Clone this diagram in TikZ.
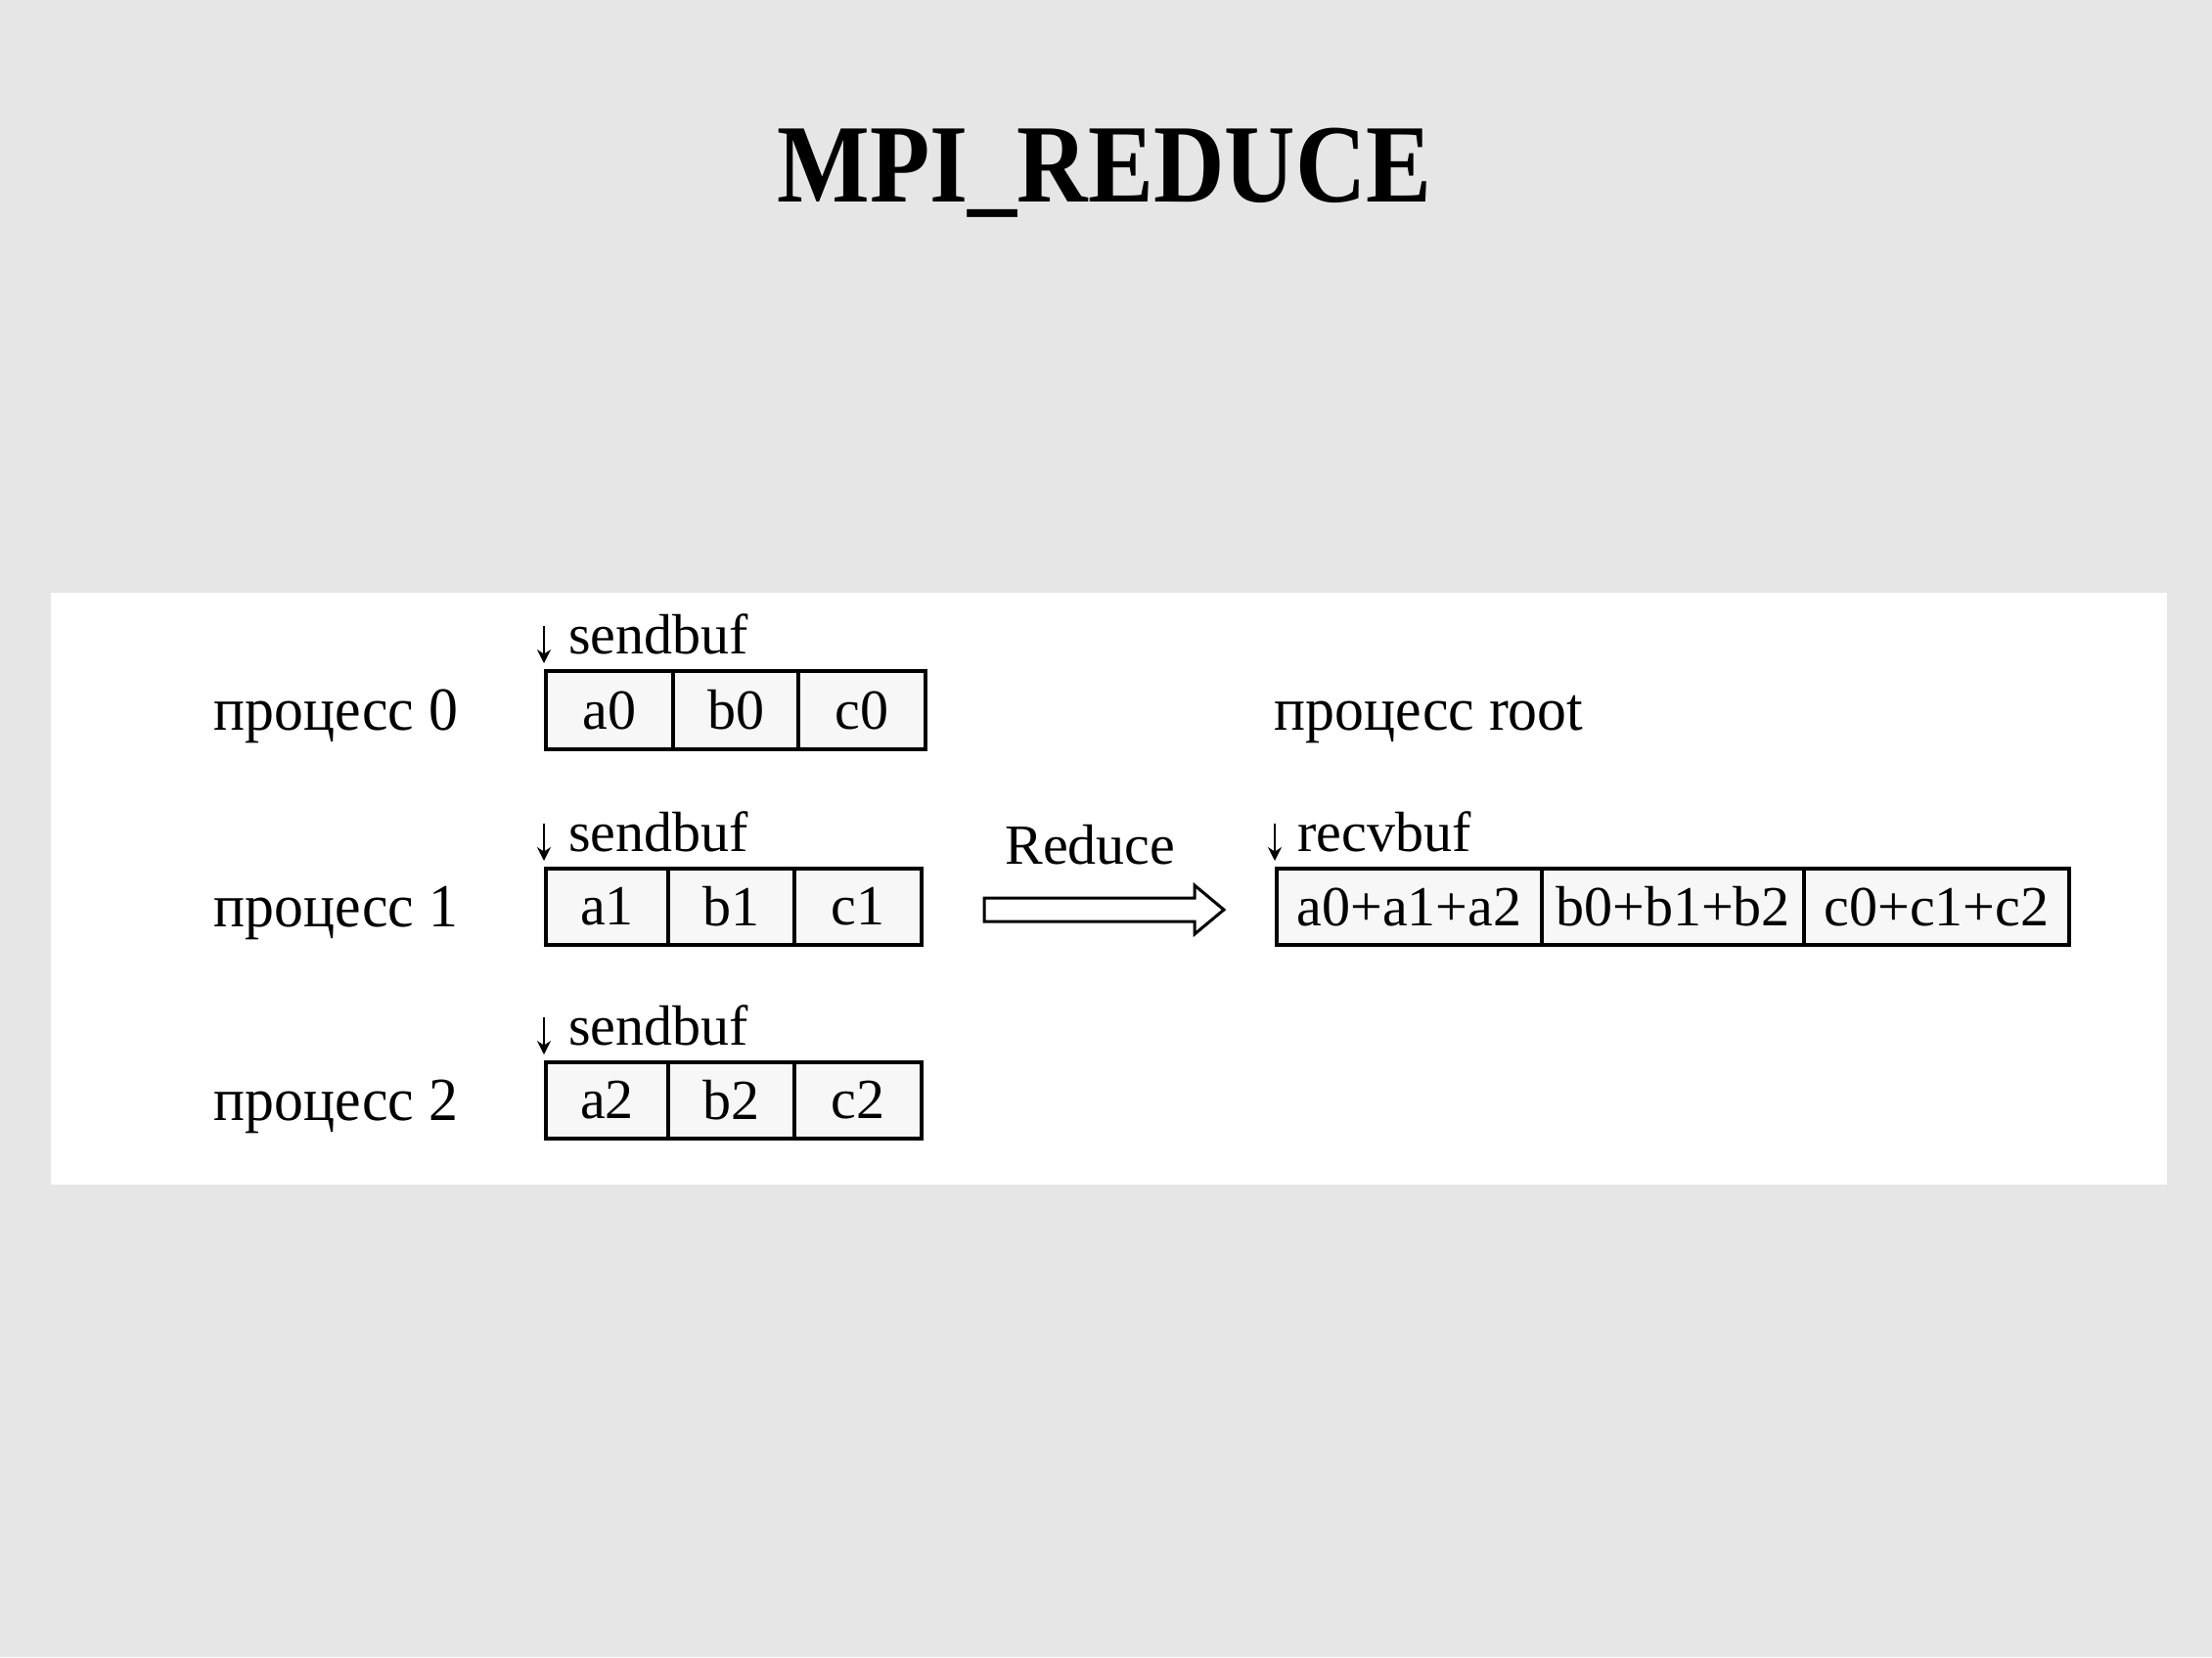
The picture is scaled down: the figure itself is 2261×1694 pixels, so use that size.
\documentclass[tikz,border=0pt]{standalone}
\usepackage{fontspec}
\usepackage{graphicx}
\setmainfont{Liberation Serif}
\usetikzlibrary{arrows.meta}
\definecolor{slidebg}{HTML}{E6E6E6}
\definecolor{cellfill}{HTML}{F7F7F7}
\begin{document}
\begin{tikzpicture}[x=0.5pt,y=-0.5pt,
  txt/.style={anchor=base west,inner sep=0pt,font=\fontsize{29}{34}\selectfont},
  cell/.style={draw,line width=2pt,fill=cellfill,inner sep=0pt,
    font=\fontsize{29}{34}\selectfont},
  ptr/.style={line width=1pt,-{Stealth[length=7pt,width=7pt]}},
  bigarrow/.style={draw,line width=1.5pt,fill=white,line join=miter}]
% slide background and white panel
\useasboundingbox (0,0) rectangle (2261,1694);
\fill[slidebg] (0,0) rectangle (2261,1694);
\fill[white] (52,606) rectangle (2215,1211);

% title
\node[anchor=base,inner sep=0pt,font=\fontsize{57}{60}\selectfont\bfseries] (title)
  at (1129,206) {\scalebox{0.88}[1]{MPI\_REDUCE}};

% process labels
\node[txt] (p0) at (218,746) {\scalebox{1.03}[1.08]{процесс 0}};
\node[txt] (p1) at (218,947) {\scalebox{1.03}[1.08]{процесс 1}};
\node[txt] (p2) at (218,1145) {\scalebox{1.03}[1.08]{процесс 2}};
\node[txt] (proot) at (1302,746) {\scalebox{1.03}[1.08]{процесс root}};

% send buffers
\node[cell,minimum width=65pt,minimum height=40pt] (a0) at (623,726) {a0};
\node[cell,minimum width=64pt,minimum height=40pt] (b0) at (752,726) {b0};
\node[cell,minimum width=65pt,minimum height=40pt] (c0) at (881,726) {c0};

\node[cell,minimum width=62.5pt,minimum height=39pt] (a1) at (620.5,927) {a1};
\node[cell,minimum width=64.5pt,minimum height=39pt] (b1) at (747.5,927) {b1};
\node[cell,minimum width=65pt,minimum height=39pt] (c1) at (877,927) {c1};

\node[cell,minimum width=62.5pt,minimum height=39pt] (a2) at (620.5,1125) {a2};
\node[cell,minimum width=64.5pt,minimum height=39pt] (b2) at (747.5,1125) {b2};
\node[cell,minimum width=65pt,minimum height=39pt] (c2) at (877,1125) {c2};

% receive buffer
\node[cell,minimum width=135.5pt,minimum height=39pt] (r1) at (1440.5,927) {a0+a1+a2};
\node[cell,minimum width=134pt,minimum height=39pt] (r2) at (1710,927) {b0+b1+b2};
\node[cell,minimum width=135.5pt,minimum height=39pt] (r3) at (1979.5,927) {c0+c1+c2};

% buffer names with pointers
\node[txt] (s0) at (581,668) {sendbuf};
\node[txt] (s1) at (581,870) {sendbuf};
\node[txt] (s2) at (581,1068) {sendbuf};
\node[txt] (rb) at (1326,870) {recvbuf};
\draw[ptr] ([yshift=22pt]a0.north west) -- ([yshift=3pt]a0.north west);
\draw[ptr] ([yshift=22pt]a1.north west) -- ([yshift=3pt]a1.north west);
\draw[ptr] ([yshift=22pt]a2.north west) -- ([yshift=3pt]a2.north west);
\draw[ptr] ([yshift=22pt]r1.north west) -- ([yshift=3pt]r1.north west);

% reduce operation
\node[txt] (op) at (1027,883) {Reduce};
\draw[bigarrow] (1006,918) -- (1221,918) -- (1221,905) -- (1251,930)
  -- (1221,955) -- (1221,942) -- (1006,942) -- cycle;
\end{tikzpicture}
\end{document}
